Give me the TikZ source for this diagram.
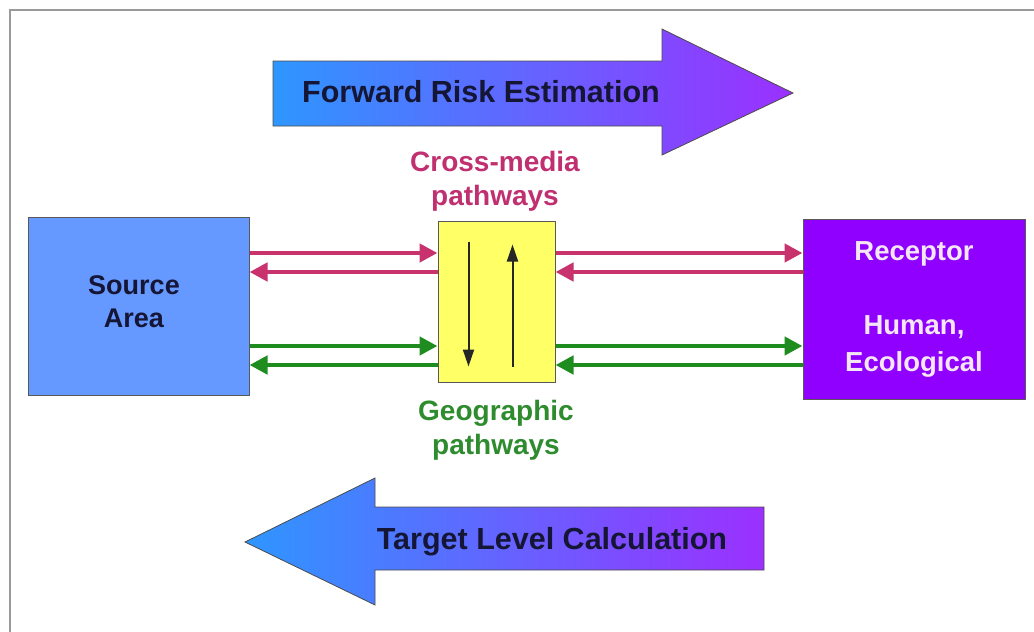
\documentclass[tikz,border=0pt]{standalone}
\usepackage{fontspec}
\setmainfont{Liberation Sans}
\usetikzlibrary{arrows.meta,calc}
\definecolor{srcblue}{HTML}{6699FF}
\definecolor{recpurple}{HTML}{8F00FF}
\definecolor{boxyellow}{HTML}{FFFF66}
\definecolor{gradblue}{HTML}{2E96FF}
\definecolor{gradpurple}{HTML}{9B30FF}
\definecolor{pinkline}{HTML}{C8336E}
\definecolor{pinktext}{HTML}{C03070}
\definecolor{greenline}{HTML}{1E8C1E}
\definecolor{greentext}{HTML}{2E8B2E}
\definecolor{navytext}{HTML}{151535}
\definecolor{rectext}{HTML}{F5E6F5}
\definecolor{framegray}{HTML}{9A9A9A}
\tikzset{
  bigarrow/.style={draw=black!70, line width=0.8pt, left color=gradblue, right color=gradpurple, shading angle=90},
  arrowtext/.style={font=\fontsize{30.5}{36}\selectfont\bfseries, text=navytext, inner sep=0pt},
  blockbox/.style={draw=black!65, line width=1pt, inner sep=0pt, align=center, font=\fontsize{27}{33}\selectfont\bfseries},
  pathlabel/.style={font=\fontsize{28}{34}\selectfont\bfseries, align=center, inner sep=0pt},
  pinkarrow/.style={draw=pinkline, line width=4.5pt, -{Triangle[length=18pt,width=18pt]}},
  greenarrow/.style={draw=greenline, line width=4.5pt, -{Triangle[length=18pt,width=18pt]}},
  innerarrow/.style={draw=black!85, line width=2pt, -{Triangle[length=17pt,width=11pt]}}
}
\begin{document}
\begin{tikzpicture}[x=1pt,y=-1pt]
\useasboundingbox (0,0) rectangle (1034,632);
% frame
\draw[framegray, line width=2.5pt] (10,632) -- (10,10) -- (1034,10);
% forward arrow
\path[bigarrow]
  (273,61) -- (662,61) -- (662,29) -- (793,93) -- (662,155) -- (662,126) -- (273,126) -- cycle;
\node[arrowtext] (fwd) at (481,92) {Forward Risk Estimation};
% target arrow
\path[bigarrow]
  (245,542) -- (375,478) -- (375,507) -- (764,507) -- (764,570) -- (375,570) -- (375,605) -- cycle;
\node[arrowtext] (tgt) at (552,542) {Target Level Calculation};
% boxes
\node[blockbox, fill=srcblue, text=navytext, minimum width=221pt, minimum height=178pt] (source) at (138.5,306) {};
\node[blockbox, draw=none, fill=none, text=navytext] (srctext) at (134,302) {Source\\Area};
\node[blockbox, fill=boxyellow, minimum width=117pt, minimum height=161pt] (mid) at (496.5,301.5) {};
\node[blockbox, fill=recpurple, text=rectext, font=\fontsize{27.5}{37}\selectfont\bfseries, minimum width=222pt, minimum height=180pt] (receptor) at (914,309) {Receptor\\[37pt]Human,\\Ecological};
% labels
\node[pathlabel, text=pinktext] (cross) at (495,181) {Cross-media\\pathways};
\node[pathlabel, text=greentext] (geo) at (496,430) {Geographic\\pathways};
% pink connectors
\draw[pinkarrow] (source.east |- 0,253) -- (mid.west |- 0,253);
\draw[pinkarrow] (mid.west |- 0,272) -- (source.east |- 0,272);
\draw[pinkarrow] (mid.east |- 0,253) -- (receptor.west |- 0,253);
\draw[pinkarrow] (receptor.west |- 0,272) -- (mid.east |- 0,272);
% green connectors
\draw[greenarrow] (source.east |- 0,346) -- (mid.west |- 0,346);
\draw[greenarrow] (mid.west |- 0,365) -- (source.east |- 0,365);
\draw[greenarrow] (mid.east |- 0,346) -- (receptor.west |- 0,346);
\draw[greenarrow] (receptor.west |- 0,365) -- (mid.east |- 0,365);
% inner arrows
\draw[innerarrow] ($(mid.north west)+(31,21)$) -- ($(mid.north west)+(31,146)$);
\draw[innerarrow] ($(mid.north west)+(75,146)$) -- ($(mid.north west)+(75,24)$);
\end{tikzpicture}
\end{document}
